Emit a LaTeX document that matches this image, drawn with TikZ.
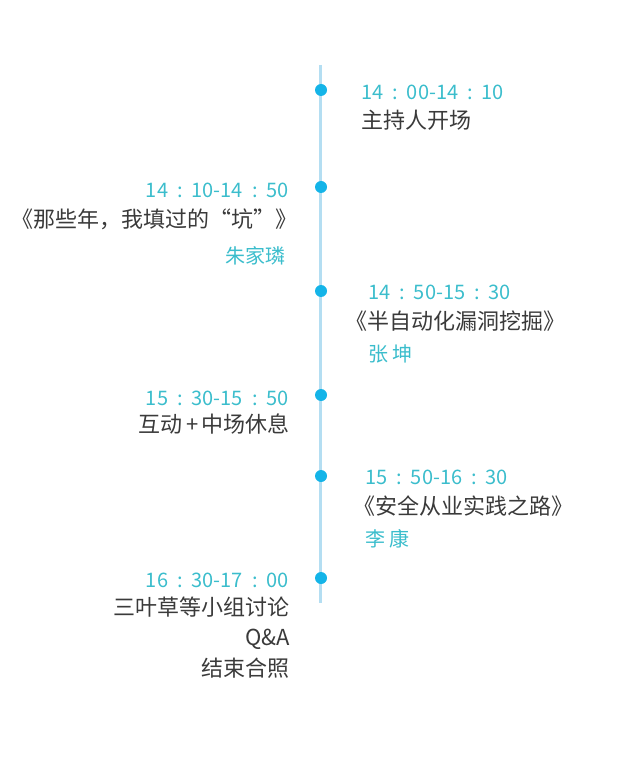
\documentclass[tikz,border=0pt]{standalone}
\usepackage{fontspec}
\setmainfont{Noto Sans CJK SC}

\definecolor{timecol}{HTML}{3BBDCC}
\definecolor{dotcol}{HTML}{14B4E8}
\definecolor{linecol}{HTML}{B4DEF2}
\definecolor{textcol}{HTML}{3A3A3A}

\newcommand{\tcolon}{\hspace{0.45em}:\hspace{0.45em}}

\tikzset{
  dot/.style={circle, fill=dotcol, minimum size=12pt, inner sep=0pt},
  time/.style={inner sep=0pt, text=timecol, font=\fontsize{20}{24}\selectfont},
  talk/.style={inner sep=0pt, text=textcol, font=\fontsize{22}{26}\selectfont},
  who/.style={inner sep=0pt, text=timecol, font=\fontsize{20}{24}\selectfont}
}

\begin{document}
\begin{tikzpicture}[x=1pt, y=-1pt]
  \useasboundingbox (0,0) rectangle (640,775);
  % timeline
  \coordinate (top) at (320,65);
  \coordinate (bottom) at (320,603);
  \draw[line width=3pt, linecol] (top) -- (bottom);
  \foreach \y/\n in {90/a, 187/b, 291/c, 395/d, 476/e, 578/f}
    \node[dot] (dot\n) at (321,\y) {};

  % right hand side
  \node[time, anchor=base west] (ta) at (361,100) {14\tcolon00-14\tcolon10};
  \node[talk, anchor=base west] (sa) at (361,129) {主持人开场};

  \node[time, anchor=base west] (tc) at (368,299) {14\tcolon50-15\tcolon30};
  \node[talk, anchor=base west] (sc) at (345,329) {《半自动化漏洞挖掘》};
  \node[who, anchor=base west] (wc) at (368,361) {张 坤};

  \node[time, anchor=base west] (te) at (365,484) {15\tcolon50-16\tcolon30};
  \node[talk, anchor=base west] (se) at (353,514) {《安全从业实践之路》};
  \node[who, anchor=base west] (we) at (365,546) {李 康};

  % left hand side
  \node[time, anchor=base east] (tb) at (289,198) {14\tcolon10-14\tcolon50};
  \node[talk, anchor=base east] (sb) at (298,228) {《那些年，我填过的“坑”》};
  \node[who, anchor=base east] (wb) at (286,263) {朱家璘};

  \node[time, anchor=base east] (td) at (289,405) {15\tcolon30-15\tcolon50};
  \node[talk, anchor=base east] (sd) at (290,432) {互动\hspace{0.15em}+\hspace{0.15em}中场休息};

  \node[time, anchor=base east] (tf) at (289,587) {16\tcolon30-17\tcolon00};
  \node[talk, anchor=base east] (sf1) at (290,615) {三叶草等小组讨论};
  \node[talk, anchor=base east] (sf2) at (290,645) {Q\&A};
  \node[talk, anchor=base east] (sf3) at (290,676) {结束合照};
\end{tikzpicture}
\end{document}
